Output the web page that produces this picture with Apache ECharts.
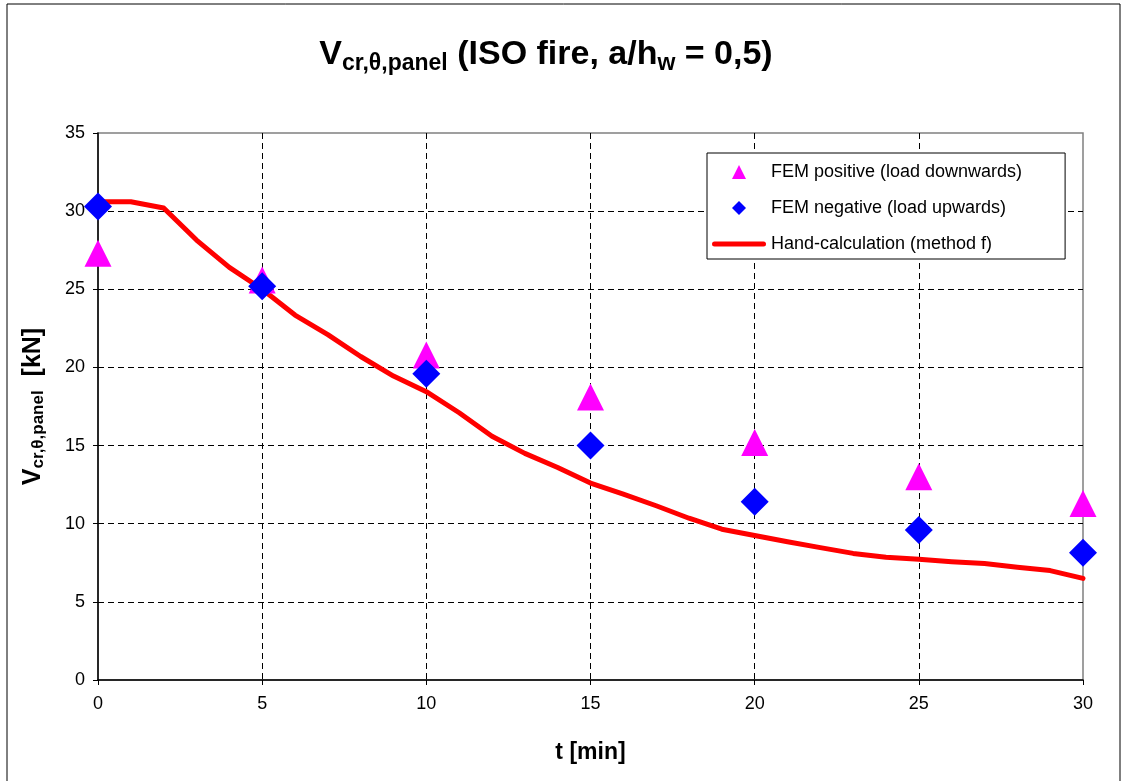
<!DOCTYPE html>
<html>
<head>
<meta charset="utf-8">
<script src="https://cdn.jsdelivr.net/npm/echarts@6/dist/echarts.min.js"></script>
<style>
  html, body { margin: 0; padding: 0; background: #fff; }
  #chart { width: 1122px; height: 781px; }
</style>
</head>
<body>
<div id="chart"></div>
<script>
// Time steps (min) at which the FEM results are available
const tFem = [0, 5, 10, 15, 20, 25, 30];
// FEM shear buckling resistance, load acting downwards [kN]
const femPositive = [27.3, 25.6, 20.8, 18.1, 15.2, 13.0, 11.3];
// FEM shear buckling resistance, load acting upwards [kN]
const femNegative = [30.3, 25.2, 19.6, 15.0, 11.4, 9.6, 8.15];
// Hand-calculation (method f), evaluated every minute
const tHand = [0, 1, 2, 3, 4, 5, 6, 7, 8, 9, 10, 11, 12, 13, 14, 15,
               16, 17, 18, 19, 20, 21, 22, 23, 24, 25, 26, 27, 28, 29, 30];
const handCalc = [30.6, 30.6, 30.2, 28.15, 26.4, 25.0, 23.35, 22.1, 20.7, 19.45, 18.45,
                  17.1, 15.6, 14.5, 13.6, 12.6, 11.9, 11.15, 10.35, 9.65, 9.25,
                  8.85, 8.47, 8.1, 7.85, 7.72, 7.57, 7.45, 7.22, 7.0, 6.5];
// Axis ranges
const xTicks = { min: 0, max: 30, step: 5 };
const yTicks = { min: 0, max: 35, step: 5 };

const seriesNames = [
  'FEM positive (load downwards)',
  'FEM negative (load upwards)',
  'Hand-calculation (method f)'
];

const pair = (xs, ys) => xs.map((x, i) => [x, ys[i]]);

const FONT = 'Liberation Sans, Arial, sans-serif';
const chart = echarts.init(document.getElementById('chart'), null, { renderer: 'canvas' });

const dashed = { color: '#000', width: 1, type: [6, 4] };

chart.setOption({
  backgroundColor: '#fff',
  animation: false,
  textStyle: { fontFamily: FONT },
  title: {
    text: '{v|V}{s|cr,θ,panel}{v| (ISO fire, a/h}{s|w}{v| = 0,5)}',
    left: 541,
    textAlign: 'center',
    top: 30,
    textStyle: {
      rich: {
        v: { fontFamily: FONT, fontWeight: 'bold', fontSize: 34, lineHeight: 40, color: '#000' },
        s: { fontFamily: FONT, fontWeight: 'bold', fontSize: 23, lineHeight: 24, verticalAlign: 'bottom', color: '#000' }
      }
    }
  },
  graphic: [{
    type: 'rect',
    shape: { x: 7, y: 4, width: 1113, height: 790 },
    style: { fill: 'none', stroke: '#000', lineWidth: 1 },
    silent: true,
    z: -10
  }],
  grid: {
    left: 98, right: 39, top: 133, bottom: 101,
    show: true,
    borderColor: '#808080',
    borderWidth: 1.5,
    backgroundColor: '#fff'
  },
  legend: {
    orient: 'vertical',
    left: 707,
    top: 153,
    padding: [10, 43, 6, 5],
    itemGap: 18,
    itemWidth: 54,
    itemHeight: 14,
    symbolKeepAspect: true,
    backgroundColor: '#fff',
    borderColor: '#000',
    borderWidth: 1,
    textStyle: { fontFamily: FONT, fontSize: 18, color: '#000' },
    data: [
      { name: seriesNames[0], icon: 'path://M7,0L14,14L0,14Z' },
      { name: seriesNames[1], icon: 'path://M7,0L14,7L7,14L0,7Z' },
      { name: seriesNames[2], icon: 'path://M2.5,0H51.5A2.5,2.5,0,0,1,51.5,5H2.5A2.5,2.5,0,0,1,2.5,0Z' }
    ]
  },
  xAxis: {
    type: 'value',
    min: xTicks.min, max: xTicks.max, interval: xTicks.step,
    name: 't [min]',
    nameLocation: 'middle',
    nameGap: 61,
    nameTextStyle: { fontFamily: FONT, fontWeight: 'bold', fontSize: 23, color: '#000' },
    axisLine: { show: true, onZero: false, lineStyle: { color: '#000', width: 1.5 } },
    axisTick: { show: true, inside: false, length: 5, lineStyle: { color: '#000' } },
    axisLabel: { fontFamily: FONT, fontSize: 18, color: '#000', margin: 15 },
    splitLine: { show: true, showMinLine: false, showMaxLine: false, lineStyle: dashed }
  },
  yAxis: {
    type: 'value',
    min: yTicks.min, max: yTicks.max, interval: yTicks.step,
    name: '{v|V}{s|cr,θ,panel}{v|  [kN]}',
    nameLocation: 'middle',
    nameRotate: 90,
    nameGap: 51,
    nameTextStyle: {
      rich: {
        v: { fontFamily: FONT, fontWeight: 'bold', fontSize: 25, lineHeight: 28, color: '#000' },
        s: { fontFamily: FONT, fontWeight: 'bold', fontSize: 17, lineHeight: 17, verticalAlign: 'bottom', color: '#000' }
      }
    },
    axisLine: { show: true, onZero: false, lineStyle: { color: '#000', width: 1.5 } },
    axisTick: { show: true, inside: false, length: 5, lineStyle: { color: '#000' } },
    axisLabel: { fontFamily: FONT, fontSize: 18, color: '#000', margin: 13 },
    splitLine: { show: true, showMinLine: false, showMaxLine: false, lineStyle: dashed }
  },
  series: [
    {
      name: seriesNames[0],
      type: 'scatter',
      data: pair(tFem, femPositive),
      symbol: 'triangle',
      symbolSize: [27, 27],
      itemStyle: { color: '#FF00FF', opacity: 1 },
      z: 3
    },
    {
      name: seriesNames[1],
      type: 'scatter',
      data: pair(tFem, femNegative),
      symbol: 'diamond',
      symbolSize: [28, 28],
      itemStyle: { color: '#0000FF', opacity: 1 },
      z: 4
    },
    {
      name: seriesNames[2],
      type: 'line',
      data: pair(tHand, handCalc),
      symbol: 'none',
      showSymbol: false,
      itemStyle: { color: '#FF0000' },
      lineStyle: { color: '#FF0000', width: 5, cap: 'round', join: 'round' },
      z: 2
    }
  ]
});
</script>
</body>
</html>
